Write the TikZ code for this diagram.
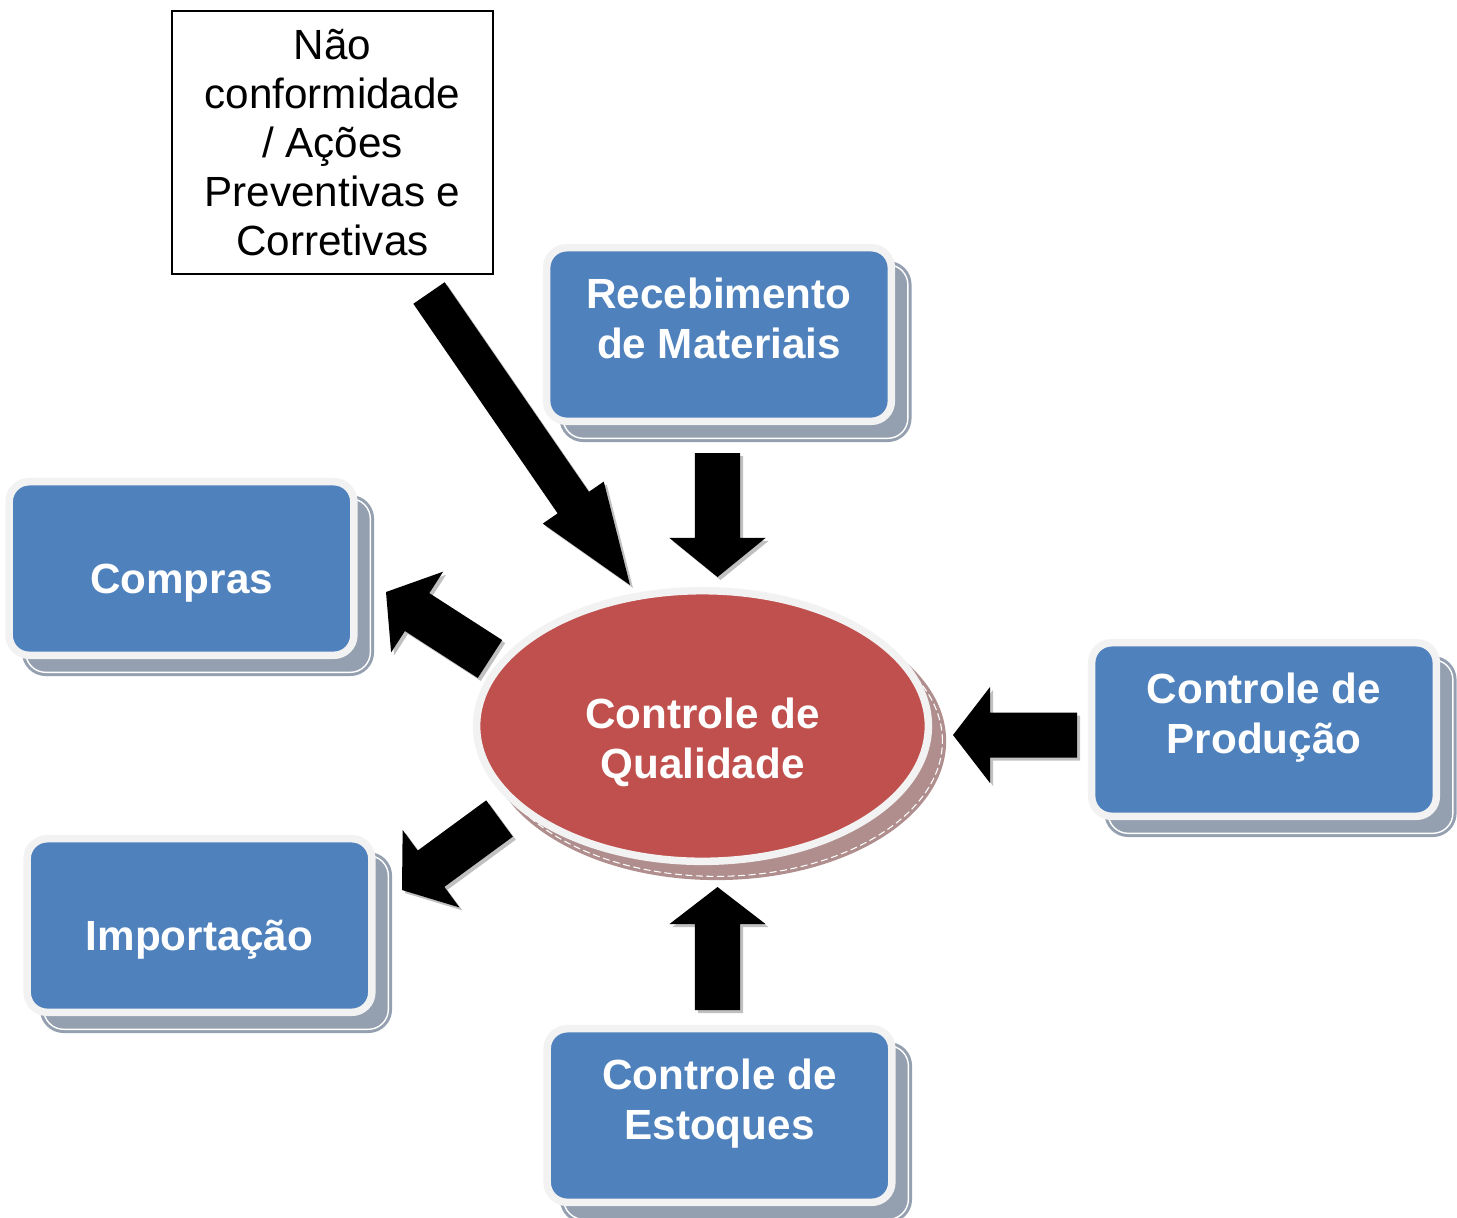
\documentclass[tikz,border=0pt]{standalone}
\usepackage{fontspec}
\setmainfont{Liberation Sans}
\usetikzlibrary{calc,shapes.geometric,shadows}

\definecolor{boxblue}{RGB}{79,129,189}
\definecolor{ringgray}{RGB}{242,242,242}
\definecolor{boxshade}{RGB}{148,160,176}
\definecolor{qualred}{RGB}{192,80,77}
\definecolor{qualshade}{RGB}{176,142,142}
\definecolor{arrowshade}{RGB}{192,192,192}

\def\arrowpath#1#2#3#4{($(#1)!#3!90:(#2)$) -- ($(ah)!#3!90:(#2)$) -- ($(ah)!#4!90:(#2)$) -- (#2) -- ($(ah)!#4!-90:(#2)$) -- ($(ah)!#3!-90:(#2)$) -- ($(#1)!#3!-90:(#2)$) -- cycle}
\newcommand\blockarrow[5]{%
  \coordinate (ah) at ($(#2)!#5!(#1)$);
  \begin{scope}[transform canvas={shift={(0.03cm,-0.03cm)}}]
    \fill[arrowshade] \arrowpath{#1}{#2}{#3}{#4};
  \end{scope}
  \fill[black] \arrowpath{#1}{#2}{#3}{#4};
}

\tikzset{
  procbox/.style={rectangle, rounded corners=0.2cm, fill=boxblue, draw=ringgray, line width=0.075cm,
    minimum width=3.445cm, minimum height=1.735cm,
    general shadow={shadow xshift=0.165cm, shadow yshift=-0.17cm, fill=boxshade, draw=boxshade,
      line width=0.03cm, double=white, double distance=0.4pt}},
  boxtext/.style={font=\fontsize{12pt}{14.2pt}\selectfont\bfseries, text=white, align=center, inner sep=0pt},
  qualnode/.style={ellipse, fill=qualred, draw=ringgray, line width=0.075cm,
    minimum width=4.515cm, minimum height=2.705cm,
    general shadow={shadow xshift=0.14cm, shadow yshift=-0.15cm, fill=qualshade, draw=qualshade, line width=0.075cm},
    general shadow={shadow xshift=0.14cm, shadow yshift=-0.15cm, draw=white, line width=0.3pt, dash pattern=on 2pt off 1pt}},
  notebox/.style={rectangle, draw=black, fill=white, line width=0.02cm, minimum width=3.21cm, minimum height=2.63cm,
    font=\fontsize{12pt}{13.9pt}\selectfont, align=center, inner sep=0pt}
}

\begin{document}
\begin{tikzpicture}[x=0.01cm, y=-0.01cm]
  \useasboundingbox (0,0) rectangle (1457,1217);
  \def\shaft{0.225cm}
  \def\head{0.48cm}
  \def\hlen{0.37cm}

  %%%%% boxes %%%%%
  \node[notebox] (nconf) at (332.5,142.5) {Não\\conformidade\\/ Ações\\Preventivas e\\Corretivas};

  \node[procbox] (receb) at (719,334.5) {};
  \node[boxtext, anchor=north] (receb-t) at ($(receb.north)+(0,33)$) {Recebimento\\de Materiais};

  \node[procbox] (compras) at (181.5,568.5) {};
  \node[boxtext, anchor=base] (compras-t) at ($(compras.center)+(0,24.5)$) {Compras};

  \node[procbox] (import) at (199.5,925.5) {};
  \node[boxtext, anchor=base] (import-t) at ($(import.center)+(0,24.5)$) {Importação};

  \node[procbox] (prod) at (1264,729.5) {};
  \node[boxtext, anchor=north] (prod-t) at ($(prod.north)+(0,33)$) {Controle de\\Produção};

  \node[procbox] (estoq) at (719.5,1115.5) {};
  \node[boxtext, anchor=north] (estoq-t) at ($(estoq.north)+(0,33)$) {Controle de\\Estoques};

  \node[qualnode] (qual) at (702.5,726) {};
  \node[boxtext, anchor=north] (qual-t) at ($(qual.center)+(0,-29)$) {Controle de\\Qualidade};

  %%%%% arrows %%%%%
  \coordinate (nconf-a) at (429,293);    \coordinate (nconf-b) at (630,585);
  \coordinate (receb-a) at (717.5,453);  \coordinate (receb-b) at (717.5,577);
  \coordinate (estoq-a) at (717.5,1010); \coordinate (estoq-b) at (717.5,887);
  \coordinate (prod-a) at (1077,735);    \coordinate (prod-b) at (953,735);
  \coordinate (compras-a) at (490,659);  \coordinate (compras-b) at (386,592);
  \coordinate (import-a) at (499.5,818.5); \coordinate (import-b) at (402,890);

  \blockarrow{nconf-a}{nconf-b}{0.19cm}{0.37cm}{1.0cm}
  \blockarrow{receb-a}{receb-b}{\shaft}{\head}{0.39cm}
  \blockarrow{estoq-a}{estoq-b}{\shaft}{\head}{\hlen}
  \blockarrow{prod-a}{prod-b}{\shaft}{\head}{\hlen}
  \blockarrow{compras-a}{compras-b}{\shaft}{\head}{\hlen}
  \blockarrow{import-a}{import-b}{\shaft}{\head}{0.36cm}
\end{tikzpicture}
\end{document}
